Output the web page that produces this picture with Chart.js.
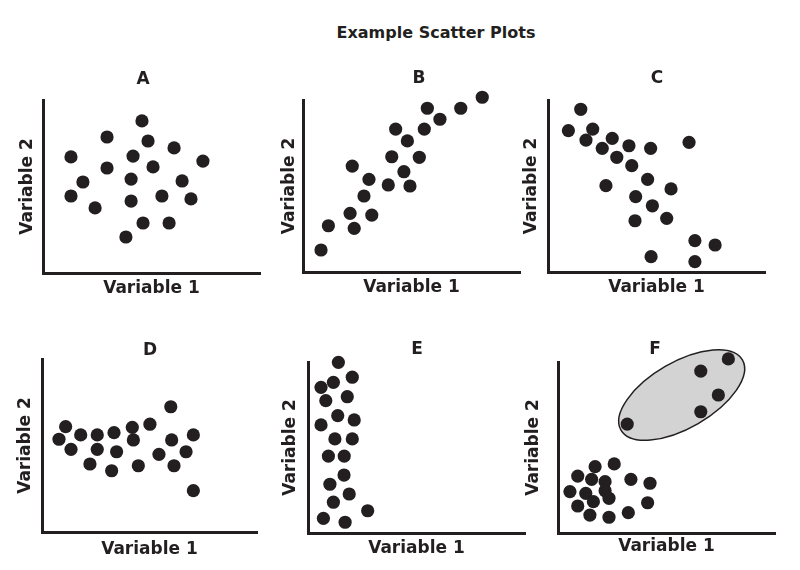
<!DOCTYPE html>
<html>
<head>
<meta charset="utf-8">
<title>Example Scatter Plots</title>
<script src="https://cdn.jsdelivr.net/npm/chart.js@4.4.1/dist/chart.umd.min.js"></script>
<style>
  html, body { margin: 0; padding: 0; background: #fff; overflow: hidden; }
  body { width: 800px; height: 570px; position: relative; }
  #title {
    position: absolute; left: 436px; top: 25px; transform: translateX(-50%);
    font: bold 16px "DejaVu Sans", sans-serif; line-height: 16px;
    color: #231f20; white-space: nowrap;
  }
  canvas { position: absolute; }
</style>
</head>
<body>
<div id="title">Example Scatter Plots</div>
<script>
const ink = "#231f20";
const family = "'DejaVu Sans', sans-serif";

const panelNames = ["A", "B", "C", "D", "E", "F"];
const xLabel = "Variable 1";
const yLabel = "Variable 2";

// values, both axes of every panel run 0..100
const aX = [45.6, 29.5, 48.4, 60.4, 12.9, 41.5, 73.7, 29.5, 50.7, 18.4, 40.6, 64.1, 12.9, 54.8, 68.2, 40.6, 24.0, 46.1, 58.1, 38.2];
const aY = [87.9, 78.6, 76.3, 72.3, 67.1, 67.6, 64.7, 60.7, 61.3, 52.6, 54.3, 53.2, 44.5, 44.5, 42.8, 41.6, 37.6, 28.9, 28.9, 20.8];

const bX = [82.6, 57.3, 72.7, 63.1, 42.7, 55.9, 48.1, 40.9, 53.6, 22.7, 46.5, 30.4, 39.3, 49.3, 28.1, 21.7, 31.7, 11.7, 23.6, 8.3];
const bY = [101.6, 95.2, 95.2, 88.8, 83.1, 83.1, 76.2, 67.0, 66.7, 61.6, 58.3, 53.9, 50.6, 50.0, 44.2, 34.1, 33.1, 26.9, 25.4, 12.8];

const cX = [15.1, 9.4, 20.6, 17.5, 29.6, 25.0, 37.3, 31.7, 47.3, 65.0, 38.6, 45.9, 26.7, 56.7, 40.4, 48.1, 54.7, 40.1, 67.7, 77.0, 47.5, 67.7];
const cY = [94.6, 82.2, 83.1, 76.7, 77.7, 71.9, 73.4, 66.7, 71.9, 75.4, 61.8, 53.9, 50.2, 48.3, 43.8, 38.5, 31.2, 29.8, 18.2, 15.7, 8.9, 6.0];

const dX = [59.9, 11.0, 50.2, 42.0, 7.9, 18.0, 25.7, 33.5, 42.5, 60.3, 70.4, 13.5, 25.7, 34.7, 54.4, 67.0, 22.3, 32.4, 44.8, 61.4, 70.4];
const dY = [72.4, 60.9, 62.3, 60.5, 53.6, 56.1, 56.1, 57.4, 53.2, 53.2, 56.1, 47.8, 47.8, 46.4, 44.9, 46.4, 39.3, 35.4, 38.3, 38.3, 23.9];

const eX = [14.0, 20.4, 11.7, 6.0, 18.1, 8.2, 13.7, 21.3, 6.0, 12.4, 20.4, 9.4, 16.7, 16.6, 10.1, 19.0, 11.7, 27.5, 7.1, 17.1];
const eY = [99.8, 91.1, 88.1, 85.2, 79.7, 77.4, 68.6, 66.1, 63.2, 55.0, 55.0, 45.0, 45.0, 33.9, 28.5, 22.8, 18.0, 13.0, 8.6, 6.3];

const fX = [78.5, 65.8, 73.9, 65.8, 31.9, 17.1, 25.9, 9.1, 15.5, 21.7, 33.6, 42.4, 5.5, 12.8, 21.7, 23.5, 16.3, 9.1, 41.3, 14.7, 23.5, 32.4];
const fY = [101.8, 94.7, 80.7, 70.9, 63.7, 38.8, 40.4, 33.3, 31.4, 30.0, 31.4, 29.1, 24.2, 23.2, 24.7, 20.3, 18.3, 15.8, 17.7, 10.5, 9.2, 11.9];

// shaded group round the upper points of F (centre in data units, radii in x units)
const fGroup = { x: 57, y: 80.7, rx: 32.3, ry: 15.2, angle: -30 };

// where each plot sits on the page
const panels = [
  { L: 43,  T: 100, R: 260, B: 273, lx: 143, ly: 79,  v2x: 27,  v1y: 288 },
  { L: 303, T: 100, R: 520, B: 272, lx: 419, ly: 78,  v2x: 289, v1y: 287 },
  { L: 548, T: 100, R: 765, B: 272, lx: 657, ly: 78,  v2x: 531, v1y: 287 },
  { L: 42,  T: 359, R: 257, B: 532, lx: 150, ly: 350, v2x: 25,  v1y: 549 },
  { L: 308, T: 362, R: 525, B: 533, lx: 417, ly: 349, v2x: 290, v1y: 548 },
  { L: 558, T: 362, R: 775, B: 533, lx: 655, ly: 349, v2x: 533, v1y: 546 }
];

const groupShade = {
  id: "groupShade",
  beforeDatasetsDraw(chart) {
    const { ctx, scales: { x, y } } = chart;
    const unit = x.getPixelForValue(1) - x.getPixelForValue(0);
    ctx.save();
    ctx.beginPath();
    ctx.ellipse(x.getPixelForValue(fGroup.x), y.getPixelForValue(fGroup.y),
      fGroup.rx * unit, fGroup.ry * unit, fGroup.angle * Math.PI / 180, 0, Math.PI * 2);
    ctx.fillStyle = "#d3d3d3";
    ctx.fill();
    ctx.lineWidth = 1.5;
    ctx.strokeStyle = ink;
    ctx.stroke();
    ctx.restore();
  }
};

function makePanel(i, xs, ys, extra) {
  const p = panels[i];
  const yw = 45, xh = 30, lh = 17 * 1.2;
  const cl = p.L - yw;
  const cr = 2 * p.lx - cl;
  const ct = Math.round(p.ly - 13.2);
  const cb = p.B + xh;
  const titleTop = p.ly + 1 - ct - lh / 2;

  const canvas = document.createElement("canvas");
  canvas.width = cr - cl;
  canvas.height = cb - ct;
  canvas.style.left = cl + "px";
  canvas.style.top = ct + "px";
  document.body.appendChild(canvas);

  const font = { family, size: 17, weight: "bold", lineHeight: 1.2 };

  new Chart(canvas, {
    type: "scatter",
    data: {
      datasets: [{
        data: xs.map((x, k) => ({ x, y: ys[k] })),
        backgroundColor: ink,
        pointRadius: 6.6,
        pointHoverRadius: 6.6,
        borderWidth: 0,
        clip: false
      }]
    },
    options: {
      responsive: false,
      animation: false,
      events: [],
      layout: { autoPadding: false, padding: 0 },
      plugins: {
        legend: { display: false },
        tooltip: { enabled: false },
        title: {
          display: true, text: panelNames[i], color: ink, font,
          padding: { top: titleTop, bottom: p.T - ct - titleTop - lh }
        }
      },
      scales: {
        x: {
          type: "linear", min: 0, max: 100,
          ticks: { display: false }, grid: { display: false },
          border: { display: true, width: 3, color: ink },
          title: { display: true, text: xLabel, color: ink, font,
                   padding: { top: 0, bottom: cb - p.v1y - 1 - lh / 2 } },
          afterFit: s => { s.height = xh; }
        },
        y: {
          type: "linear", min: 0, max: 100,
          ticks: { display: false }, grid: { display: false },
          border: { display: true, width: 3, color: ink },
          title: { display: true, text: yLabel, color: ink, font,
                   padding: { top: p.v2x + 1 - cl - lh / 2, bottom: 0 } },
          afterFit: s => { s.width = yw; }
        },
        // empty box on the right so the letter centres where it should
        gap: {
          type: "linear", position: "right",
          ticks: { display: false }, grid: { display: false },
          border: { display: false }, title: { display: false },
          afterFit: s => { s.width = cr - p.R; }
        }
      }
    },
    plugins: extra || []
  });
}

makePanel(0, aX, aY);
makePanel(1, bX, bY);
makePanel(2, cX, cY);
makePanel(3, dX, dY);
makePanel(4, eX, eY);
makePanel(5, fX, fY, [groupShade]);
</script>
</body>
</html>
